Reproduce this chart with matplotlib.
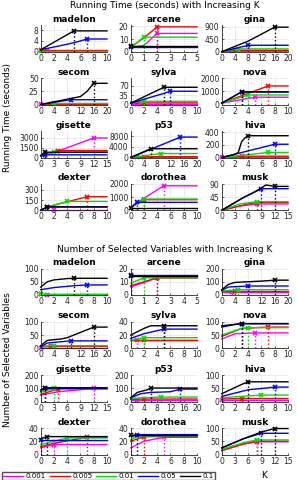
import matplotlib
matplotlib.use('Agg')
from matplotlib import pyplot as plt
from matplotlib.lines import Line2D

# Conjuntos de datos y rango de K
nombres = ['madelon', 'arcene', 'gina', 'secom', 'sylva', 'nova',
           'gisette', 'p53', 'hiva', 'dexter', 'dorothea', 'musk']
k_max = [10, 5, 20, 20, 10, 10, 15, 20, 10, 10, 10, 15]
k_paso = [2, 1, 4, 4, 2, 2, 3, 4, 2, 2, 2, 3]

alfas = ['0.001', '0.005', '0.01', '0.05', '0.1']
colores = ['#ff00ff', '#ff0000', '#00e000', '#0000ff', '#000000']

tiempo_yticks = [[0, 4, 8], [0, 10, 20], [0, 450, 900], [0, 25, 50], [0, 35, 70], [0, 1000, 2000],
                 [0, 1500, 3000], [0, 4000, 8000], [0, 200, 400], [0, 150, 300], [0, 1000, 2000], [0, 45, 90]]
tiempo_ytop = [9.8, 21, 950, 50, 100, 2000, 4000, 10000, 420, 390, 2000, 92]

vars_yticks = [[0, 50, 100], [0, 10, 20], [0, 100, 200], [0, 50, 100], [0, 20, 40], [0, 50, 100],
               [0, 100, 200], [0, 100, 200], [0, 50, 100], [0, 20, 40], [0, 20, 40], [0, 50, 100]]
vars_ytop = [100, 20, 200, 100, 40, 100, 200, 200, 100, 40, 40, 100]

# cada serie: (valores de K, valores); el ultimo punto es el K elegido
tiempo = {
    'madelon': [([0, 1], [0.3, 0.3]), ([0], [0.8]), ([0], [0.3]),
                ([0, 5, 7], [0.7, 3.3, 4.7]), ([0, 5], [0.7, 7.7])],
    'arcene': [([0, 1, 2], [3.5, 5, 14.5]), ([0, 1, 2], [3.5, 11, 19.7]), ([0, 1], [3.5, 11.5]),
               ([0], [4.0]), ([0], [4.5])],
    'gina': [([0, 3], [5, 10]), ([0, 4], [10, 50]), ([0, 5], [0, 100]),
             ([0, 8], [0, 230]), ([0, 8, 16], [0, 380, 880])],
    'secom': [([0], [1]), ([0, 3], [1, 1]), ([0, 4], [1, 2]),
              ([0, 9], [0, 9]), ([0, 4, 8, 12, 14, 16], [0, 5, 10, 15, 25, 40])],
    'sylva': [([0, 1], [3, 3]), ([0, 2], [5, 6]), ([0, 2], [10, 12]),
              ([0, 5, 6], [5, 42, 50]), ([0, 5], [5, 65])],
    'nova': [([0, 5], [100, 550]), ([0, 7], [100, 1400]), ([0, 4], [100, 720]),
             ([0, 3], [100, 950]), ([0, 3], [100, 950])],
    'gisette': [([0, 4, 12], [200, 1000, 2950]), ([0, 4], [200, 1050]), ([0, 3], [200, 800]),
                ([0, 1], [300, 400]), ([0, 1], [300, 800])],
    'p53': [([0, 2], [0, 50]), ([0, 4], [100, 300]), ([0, 9], [0, 1500]),
            ([0, 15], [0, 7700]), ([0, 6], [0, 3300])],
    'hiva': [([0], [5]), ([0, 3], [10, 20]), ([0, 7], [0, 80]),
             ([0, 8], [0, 210]), ([0, 2, 2.5, 3, 3.5, 4], [0, 50, 80, 250, 310, 345])],
    'dexter': [([0, 2], [10, 10]), ([0, 1, 7], [0, 50, 200]), ([0, 1, 4], [0, 50, 130]),
               ([0, 1], [0, 50]), ([0, 1], [0, 50])],
    'dorothea': [([0, 1, 5], [200, 600, 1850]), ([0, 2], [200, 800]), ([0, 2], [200, 850]),
                 ([0, 1], [200, 600]), ([0], [200])],
    'musk': [([0, 4, 8], [0, 15, 22]), ([0, 6, 8], [0, 22, 27]), ([0, 4, 8], [0, 22, 30]),
             ([0, 5, 7, 9], [0, 45, 60, 75]), ([0, 5, 7, 9, 10, 12], [0, 45, 60, 78, 88, 83])],
}

variables = {
    'madelon': [([0, 1], [1, 1]), ([0], [2]), ([0], [5]),
                ([0, 2, 5, 7], [20, 28, 35, 38]), ([0, 1, 2, 4, 5], [30, 50, 57, 62, 63])],
    'arcene': [([0, 2], [6, 13]), ([0, 2], [7, 13]), ([0, 1], [9, 13]),
               ([0], [15]), ([0], [14])],
    'gina': [([0, 3], [20, 20]), ([0, 4], [30, 30]), ([0, 5], [30, 40]),
             ([0, 2, 8], [35, 60, 68]), ([0, 2, 4, 8, 12, 16], [40, 80, 95, 100, 105, 112])],
    'secom': [([0], [2]), ([0, 3], [5, 7]), ([0, 4], [8, 10]),
              ([0, 2, 9], [5, 20, 28]), ([0, 2, 6, 8, 11, 13, 16], [10, 30, 35, 40, 55, 65, 80])],
    'sylva': [([0, 1], [12, 12]), ([0, 2], [13, 13]), ([0, 2], [12, 16]),
              ([0, 2, 5], [15, 22, 29]), ([0, 2, 3, 5], [20, 30, 34, 34])],
    'nova': [([0, 2, 5], [35, 55, 58]), ([0, 3, 7], [45, 75, 80]), ([0, 3, 4], [50, 75, 78]),
             ([0, 2, 3], [80, 90, 93]), ([0, 3], [85, 93])],
    'gisette': [([0, 4, 12], [50, 75, 100]), ([0, 4], [55, 97]), ([0, 3], [70, 100]),
                ([0, 1], [90, 100]), ([0, 1], [80, 105])],
    'p53': [([0, 2], [10, 10]), ([0, 4], [18, 20]), ([0, 9], [25, 35]),
            ([0, 3, 6, 12, 15], [30, 60, 70, 75, 95]), ([0, 2, 5, 6], [30, 70, 90, 103])],
    'hiva': [([0], [5]), ([0, 3], [10, 12]), ([0, 6], [15, 25]),
             ([0, 4, 8], [20, 45, 55]), ([0, 3, 4], [30, 65, 75])],
    'dexter': [([0, 2], [10, 15]), ([0, 2, 7], [12, 17, 26]), ([0, 2, 4], [15, 20, 25]),
               ([0], [22]), ([0, 1], [24, 27])],
    'dorothea': [([0, 2, 5], [10, 20, 26]), ([0, 2], [20, 27]), ([0, 1], [22, 28]),
                 ([0, 1], [28, 30]), ([0], [29])],
    'musk': [([0, 5, 8], [15, 40, 48]), ([0, 5, 8], [15, 40, 50]), ([0, 5, 8], [20, 45, 55]),
             ([0, 5, 9], [25, 60, 80]), ([0, 5, 9, 12], [25, 60, 85, 98])],
}

W, H = 297, 480
fig = plt.figure(figsize=(W / 100, H / 100), dpi=100)

col_izq = [40.7, 130.7, 221.7]
ancho = 66.3
alto = 26.5
fondos_tiempo = [51.7, 104.5, 157.5, 210.3]
fondos_vars = [295, 348.3, 401.7, 454.5]


def dibujar(ax, series, kmax, paso, yticks, ytop, titulo):
    for (ks, vs), c in zip(series, colores):
        ax.plot(list(ks) + [kmax], list(vs) + [vs[-1]], color=c, lw=1.0, clip_on=False)
        ax.plot([ks[-1], ks[-1]], [0, vs[-1]], color=c, ls=':', lw=1.0)
        ax.plot(ks[-1], vs[-1], 'x', color=c, ms=3.5, mew=1.2, clip_on=False)
    ax.set_xlim(0, kmax)
    ax.set_xticks(range(0, kmax + 1, paso))
    ax.set_ylim(0, ytop)
    ax.set_yticks(yticks)
    ax.grid(True, color='#e3e3e3', lw=0.5)
    ax.set_axisbelow(True)
    ax.spines['top'].set_visible(False)
    ax.spines['right'].set_visible(False)
    for s in ['left', 'bottom']:
        ax.spines[s].set_color('#262626')
        ax.spines[s].set_linewidth(0.6)
    ax.tick_params(labelsize=5.5, length=1.5, direction='in', pad=1.5,
                   colors='#262626', width=0.5)
    ax.set_title(titulo, fontsize=6.5, fontweight='bold', pad=2.5)


for i, nombre in enumerate(nombres):
    fila, col = divmod(i, 3)
    ax = fig.add_axes([col_izq[col] / W, 1 - fondos_tiempo[fila] / H, ancho / W, alto / H])
    dibujar(ax, tiempo[nombre], k_max[i], k_paso[i], tiempo_yticks[i], tiempo_ytop[i], nombre)
    ax = fig.add_axes([col_izq[col] / W, 1 - fondos_vars[fila] / H, ancho / W, alto / H])
    dibujar(ax, variables[nombre], k_max[i], k_paso[i], vars_yticks[i], vars_ytop[i], nombre)

fig.text(165 / W, 1 - 6 / H, 'Running Time (seconds) with Increasing K',
         ha='center', va='center', fontsize=6.5)
fig.text(165 / W, 1 - 249 / H, 'Number of Selected Variables with Increasing K',
         ha='center', va='center', fontsize=6.5)
fig.text(8 / W, 1 - 118 / H, 'Running Time (seconds)', rotation=90,
         ha='center', va='center', fontsize=6.5)
fig.text(8 / W, 1 - 360 / H, 'Number of Selected Variables', rotation=90,
         ha='center', va='center', fontsize=6.5)
fig.text(264 / W, 1 - 475 / H, 'K', ha='center', va='center', fontsize=6.5)

manejadores = [Line2D([], [], color=c, lw=1.0) for c in colores]
fig.legend(manejadores, alfas, ncol=5, loc='lower left', bbox_to_anchor=(2 / W, 0.0),
           fontsize=5, frameon=True, fancybox=False, edgecolor='#262626',
           handlelength=2.9, handletextpad=0.35, columnspacing=0.55,
           borderpad=0.15, borderaxespad=0.0)

plt.savefig('out.png', dpi=100)
